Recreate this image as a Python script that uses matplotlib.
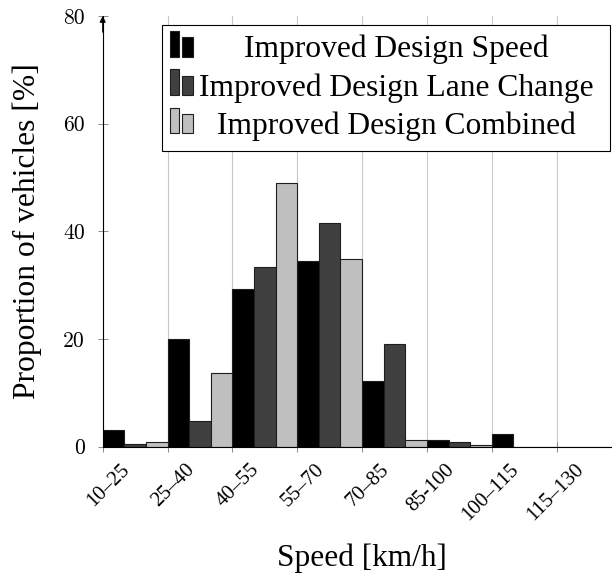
import matplotlib
matplotlib.use("Agg")
import matplotlib.pyplot as plt
import matplotlib.transforms as mtransforms
from matplotlib.patches import Rectangle
import numpy as np

# Speed bins and share of vehicles (%) per design variant
categories = ["10–25", "25–40", "40–55", "55–70", "70–85", "85-100", "100–115", "115–130"]
speed = [3.16, 20.07, 29.35, 34.43, 12.14, 1.24, 2.36, 0.0]
lane_change = [0.44, 4.71, 33.44, 41.61, 19.01, 0.81, 0.0, 0.0]
combined = [0.81, 13.75, 49.04, 34.80, 1.18, 0.25, 0.0, 0.0]
series_names = ["Improved Design Speed",
                "Improved Design Lane Change",
                "Improved Design Combined"]
y_ticks = [0, 20, 40, 60, 80]

fills = ["#000000", "#404040", "#bfbfbf"]
edge = "#1e1e1e"
serif = "Liberation Serif"

W, H = 612, 574
fig = plt.figure(figsize=(W / 100, H / 100), dpi=100)


def fx(px):
    return px / W


def fy(py):
    return 1 - py / H


ax = fig.add_axes([fx(102.7), fy(446.7), 518.8 / W, 430.7 / H])

x = np.arange(len(categories))
for j, vals in enumerate([speed, lane_change, combined]):
    ax.bar(x + j / 3, vals, width=1 / 3, align="edge", color=fills[j],
           edgecolor=edge, linewidth=0.8, zorder=2)

ax.set_xlim(0, len(categories))
ax.set_ylim(0, 80)

# vertical grid at every bin boundary
ax.set_xticks(x)
ax.grid(axis="x", color="#c8c8c8", linewidth=0.8, zorder=0)
ax.set_axisbelow(True)

for s in ("top", "right"):
    ax.spines[s].set_visible(False)
for s in ("left", "bottom"):
    ax.spines[s].set_linewidth(0.8)
    ax.spines[s].set_color("black")

ax.tick_params(axis="x", direction="inout", length=7, width=0.6,
               color="#777777", labelbottom=False)
ax.set_yticks(y_ticks)
ax.set_yticklabels([str(v) for v in y_ticks], fontfamily="cmr10", fontsize=15.6)
ax.tick_params(axis="y", direction="inout", length=7.2, width=0.6,
               color="#777777", pad=9.1)

# rotated category labels, anchored at their right end
lab_tr = (mtransforms.blended_transform_factory(ax.transData, ax.transAxes)
          + mtransforms.ScaledTranslation(27.7 / 100, -23.7 / 100, fig.dpi_scale_trans))
for xi, name in zip(x, categories):
    ax.text(xi, 0, name, transform=lab_tr, rotation=45, rotation_mode="anchor",
            ha="right", va="baseline", fontsize=15, fontfamily=serif,
            clip_on=False)

# arrow tip on the y axis
ax.annotate("", xy=(0, 80), xytext=(0, 77), annotation_clip=False,
            arrowprops=dict(arrowstyle="-|>", color="black", lw=0.8,
                            mutation_scale=9, shrinkA=0, shrinkB=0))

ax.set_xlabel("Speed [km/h]", fontfamily=serif, fontsize=22.6)
ax.xaxis.label.set_va("baseline")
ax.xaxis.set_label_coords(0.5, (446.7 - 566) / 430.7)

ax.set_ylabel("Proportion of vehicles [%]", fontfamily=serif, fontsize=22.7)
ax.yaxis.label.set_va("center")
ax.yaxis.set_label_coords((27.5 - 102.7) / 518.8, 0.5)

# legend box with paired bar swatches
fig.add_artist(Rectangle((fx(161.7), fy(150.7)), (610 - 161.7) / W, (150.7 - 25) / H,
                         transform=fig.transFigure, facecolor="white",
                         edgecolor="black", linewidth=0.8, zorder=5))
for r, name in enumerate(series_names):
    bottom = 56.7 + 38.3 * r
    for (x0, x1, h) in [(169.8, 179.3, 25.7), (182.3, 192.5, 19.3)]:
        fig.add_artist(Rectangle((fx(x0), fy(bottom)), (x1 - x0) / W, h / H,
                                 transform=fig.transFigure, facecolor=fills[r],
                                 edgecolor=edge, linewidth=0.8, zorder=6))
    fig.text(fx(396.7), fy(bottom + 0.8), name, ha="center", va="baseline",
             fontsize=22.7, fontfamily=serif, zorder=6)

fig.savefig("out.png", dpi=100)
